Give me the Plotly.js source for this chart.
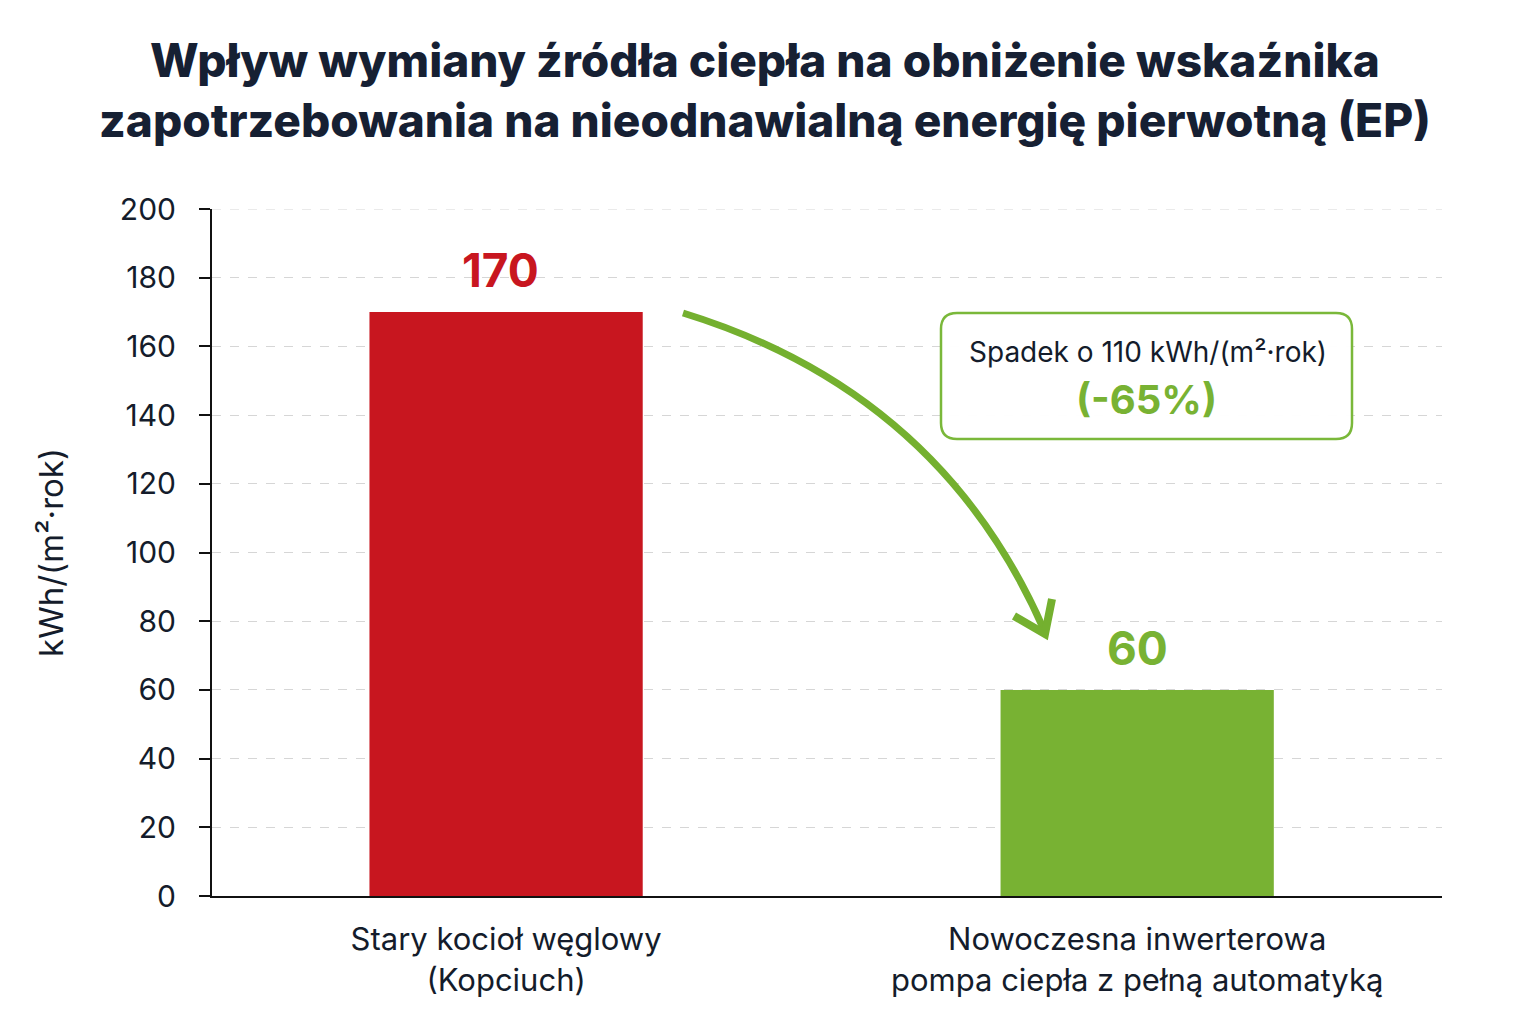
<!DOCTYPE html>
<html>
<head>
<meta charset="utf-8">
<script src="https://cdn.plot.ly/plotly-3.0.1.min.js"></script>
<style>html,body{margin:0;padding:0;background:#fff;}#chart{width:1536px;height:1024px;}</style>
</head>
<body>
<div id="chart"></div>
<script>
const categories = ["Stary kocioł węglowy<br>(Kopciuch)", "Nowoczesna inwerterowa<br>pompa ciepła z pełną automatyką"];
const values = [170, 60];
const barColors = ["#c8161f", "#78b233"];
const yTicks = [0, 20, 40, 60, 80, 100, 120, 140, 160, 180, 200];
const titleText = "Wpływ wymiany źródła ciepła na obniżenie wskaźnika<br>zapotrzebowania na nieodnawialną energię pierwotną (EP)";
const yTitle = "kWh/(m²·rok)";
const unit = "kWh/(m²·rok)";

const W = 1536, H = 1024;
const M = {l: 212, r: 94, t: 209, b: 128};
const PW = W - M.l - M.r, PH = H - M.t - M.b;
const px = x => (x - M.l) / PW;
const py = y => (H - M.b - y) / PH;

const drop = values[0] - values[1];
const pct = Math.round(drop / values[0] * 100);
const idx = categories.map((c, i) => i);

const dark = "#141c2b";
const font = "Inter, 'Open Sans', sans-serif";

function pp(x, y) { return px(x).toFixed(5) + "," + py(y).toFixed(5); }
function roundRect(x0, y0, x1, y1, r) {
  return "M" + pp(x0 + r, y0) + " L" + pp(x1 - r, y0) + " Q" + pp(x1, y0) + " " + pp(x1, y0 + r) +
    " L" + pp(x1, y1 - r) + " Q" + pp(x1, y1) + " " + pp(x1 - r, y1) +
    " L" + pp(x0 + r, y1) + " Q" + pp(x0, y1) + " " + pp(x0, y1 - r) +
    " L" + pp(x0, y0 + r) + " Q" + pp(x0, y0) + " " + pp(x0 + r, y0) + " Z";
}

const arrowPath = "M" + pp(683, 313) + " Q" + pp(940, 392) + " " + pp(1044, 630);
const headPath = "M" + pp(1014, 616) + " L" + pp(1045, 634) + " L" + pp(1052, 599);

const data = [{
  type: "bar",
  x: idx,
  y: values,
  width: 0.433,
  marker: {color: barColors},
  hoverinfo: "skip"
}];

const layout = {
  width: W, height: H,
  paper_bgcolor: "#fff", plot_bgcolor: "#fff",
  margin: M,
  showlegend: false,
  font: {family: font, color: dark},
  title: {
    text: titleText,
    font: {family: font, size: 46, color: "#162033", weight: 800},
    x: 0.498, xanchor: "center", yref: "container", y: 1 - 77 / 1024, yanchor: "middle"
  },
  xaxis: {
    range: [-0.466, 1.483],
    tickvals: idx,
    ticktext: categories,
    showgrid: false, zeroline: false,
    showline: true, linecolor: "#111", linewidth: 2,
    ticks: "", tickfont: {family: font, size: 31, color: dark},
    ticklabelstandoff: 15,
    fixedrange: true
  },
  yaxis: {
    range: [0, 200],
    tickvals: yTicks,
    showgrid: true, gridcolor: "#d6d6d6", gridwidth: 1, griddash: "dash",
    zeroline: false,
    showline: true, linecolor: "#111", linewidth: 2,
    ticks: "outside", ticklen: 11, tickwidth: 2, tickcolor: "#111",
    tickfont: {family: font, size: 30, color: dark},
    ticklabelstandoff: 17,
    title: {text: yTitle, font: {family: font, size: 33, color: dark}, standoff: 46},
    fixedrange: true
  },
  shapes: [
    {type: "line", xref: "paper", yref: "y", x0: 0, x1: 1, y0: yTicks[yTicks.length - 1], y1: yTicks[yTicks.length - 1],
     line: {color: "#d6d6d6", width: 1, dash: "dash"}, layer: "below"},
    {type: "path", xref: "paper", yref: "paper", path: roundRect(941, 313, 1352, 439, 16),
     line: {color: "#7ab83a", width: 2.5}, fillcolor: "rgba(255,255,255,0.97)", layer: "above"},
    {type: "path", xref: "paper", yref: "paper", path: arrowPath,
     line: {color: "#74b02f", width: 7}, layer: "above"},
    {type: "path", xref: "paper", yref: "paper", path: headPath,
     line: {color: "#74b02f", width: 8}, layer: "above"}
  ],
  annotations: [
    {x: 0, y: values[0], xref: "x", yref: "y", text: "<b>" + values[0] + "</b>", showarrow: false,
     xanchor: "center", yanchor: "bottom", yshift: 12, xshift: -6, font: {family: font, size: 46, color: barColors[0]}},
    {x: 1, y: values[1], xref: "x", yref: "y", text: "<b>" + values[1] + "</b>", showarrow: false,
     xanchor: "center", yanchor: "bottom", yshift: 12, font: {family: font, size: 46, color: barColors[1]}},
    {x: px(1148), y: py(352), xref: "paper", yref: "paper", text: "Spadek o " + drop + " " + unit,
     xanchor: "center", yanchor: "middle",
     showarrow: false, font: {family: font, size: 28, color: dark}},
    {x: px(1146), y: py(399), xref: "paper", yref: "paper", text: "<b>(-" + pct + "%)</b>",
     xanchor: "center", yanchor: "middle",
     showarrow: false, font: {family: font, size: 40, color: "#78b233"}}
  ]
};

Plotly.newPlot("chart", data, layout, {displayModeBar: false, staticPlot: true});
</script>
</body>
</html>
